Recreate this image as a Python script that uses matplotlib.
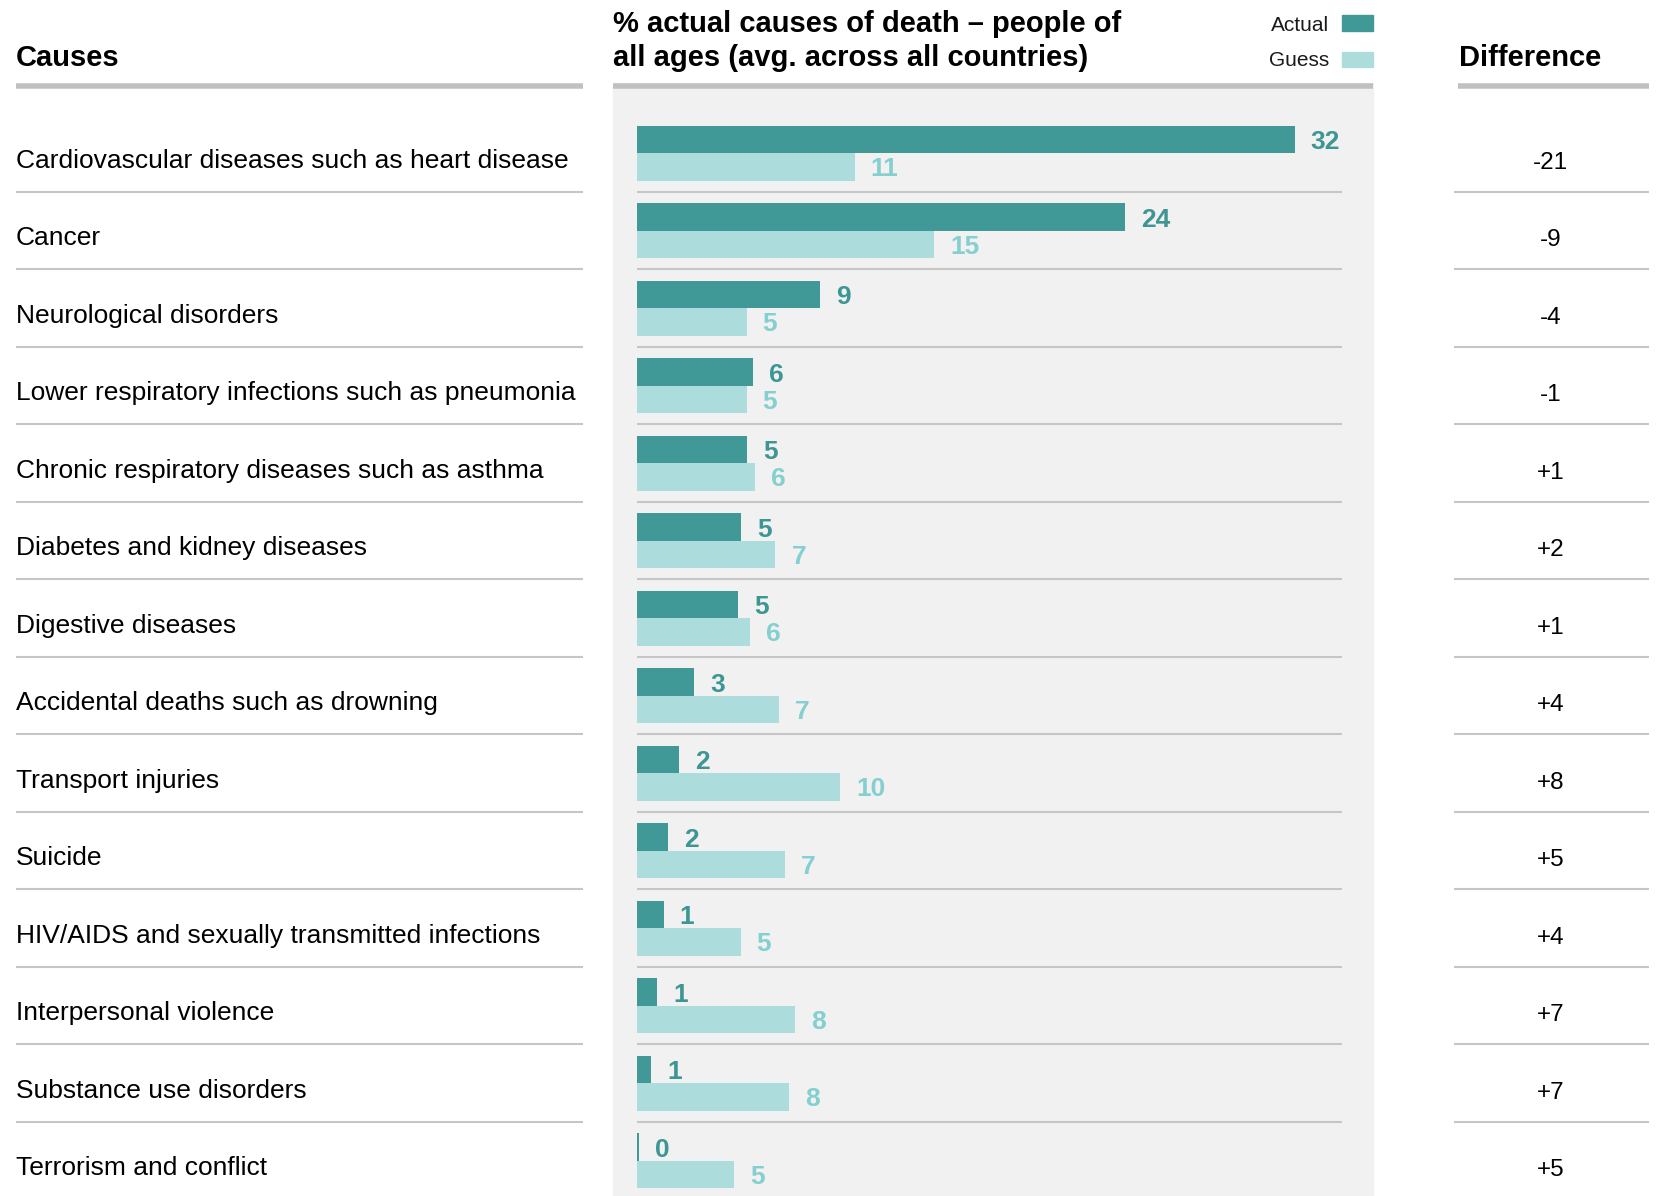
import matplotlib
matplotlib.use("Agg")
import matplotlib.pyplot as plt
from matplotlib.patches import Rectangle
from matplotlib.lines import Line2D
import numpy as np

plt.rcParams['font.family'] = ['Liberation Sans', 'DejaVu Sans']

causes = [
    "Cardiovascular diseases such as heart disease",
    "Cancer",
    "Neurological disorders",
    "Lower respiratory infections such as pneumonia",
    "Chronic respiratory diseases such as asthma",
    "Diabetes and kidney diseases",
    "Digestive diseases",
    "Accidental deaths such as drowning",
    "Transport injuries",
    "Suicide",
    "HIV/AIDS and sexually transmitted infections",
    "Interpersonal violence",
    "Substance use disorders",
    "Terrorism and conflict",
]
# bar lengths
actual = [32.0, 23.75, 8.92, 5.64, 5.36, 5.09, 4.95, 2.81, 2.08, 1.54, 1.31, 0.99, 0.70, 0.13]
guess = [10.60, 14.46, 5.35, 5.35, 5.74, 6.75, 5.53, 6.92, 9.91, 7.21, 5.06, 7.72, 7.43, 4.75]
# printed labels
actual_labels = ["32", "24", "9", "6", "5", "5", "5", "3", "2", "2", "1", "1", "1", "0"]
guess_labels = ["11", "15", "5", "5", "6", "7", "6", "7", "10", "7", "5", "8", "8", "5"]
diff_labels = ["-21", "-9", "-4", "-1", "+1", "+2", "+1", "+4", "+8", "+5", "+4", "+7", "+7", "+5"]

C_ACT = "#419997"
C_GUESS = "#addcdc"
C_ACT_TXT = "#3d9694"
C_GUESS_TXT = "#84cfcf"
PANEL = "#f1f1f1"
HEAD_LINE = "#c0c0c0"
SEP = "#c6c6c6"

W, H = 1663, 1196
fig = plt.figure(figsize=(W / 100, H / 100), dpi=100)


def fx(x):
    return x / W


def fy(y):
    return 1 - y / H


ROW_TOP = 114.2
ROW_H = 77.5
n = len(causes)
rows = np.arange(n)


def col_axes(x0, x1):
    y1 = ROW_TOP + n * ROW_H
    ax = fig.add_axes([fx(x0), fy(y1), (x1 - x0) / W, (y1 - ROW_TOP) / H])
    ax.set_ylim(n, 0)
    ax.axis('off')
    return ax


# gray panel behind the bars
fig.add_artist(Rectangle((fx(613), fy(1196)), (1372.5 - 613) / W, (1196 - 83) / H,
                         transform=fig.transFigure, color=PANEL, zorder=-1))

# header lines
for x0, x1 in [(15.8, 582.6), (613, 1372.5), (1458.3, 1649.3)]:
    fig.add_artist(Line2D([fx(x0), fx(x1)], [fy(85.5), fy(85.5)], lw=5.5 * 0.72,
                          color=HEAD_LINE, solid_capstyle='butt', transform=fig.transFigure))

# headers
fig.text(fx(15.8), fy(66), "Causes", fontsize=21, fontweight='bold', va='baseline')
fig.text(fx(613), fy(31.5), "% actual causes of death \u2013 people of", fontsize=21,
         fontweight='bold', va='baseline')
fig.text(fx(613), fy(66), "all ages (avg. across all countries)", fontsize=21,
         fontweight='bold', va='baseline')
fig.text(fx(1459), fy(66), "Difference", fontsize=21, fontweight='bold', va='baseline')

# legend
fig.text(fx(1329), fy(30.7), "Actual", fontsize=15, ha='right', va='baseline', color="#1a1a1a")
fig.text(fx(1329), fy(66.5), "Guess", fontsize=15, ha='right', va='baseline', color="#1a1a1a")
fig.add_artist(Rectangle((fx(1342), fy(30.7)), 30.7 / W, 15.7 / H,
                         transform=fig.transFigure, color=C_ACT))
fig.add_artist(Rectangle((fx(1342), fy(66.7)), 30.7 / W, 14.7 / H,
                         transform=fig.transFigure, color=C_GUESS))

# left column: causes
ax_l = col_axes(15.8, 582.6)
ax_l.set_xlim(0, 1)
for i in range(1, n):
    ax_l.axhline(i, color=SEP, lw=1.5)
for i, c in enumerate(causes):
    ax_l.text(0, i + 0.69, c, fontsize=19, va='baseline', ha='left')

# middle column: bars
ax_m = col_axes(636.7, 1341.7)
ax_m.set_xlim(0, 705 / 20.5625)
for i in range(1, n):
    ax_m.axhline(i, color=SEP, lw=1.5)
ax_m.barh(rows + 0.328, actual, height=0.352, color=C_ACT, lw=0)
ax_m.barh(rows + 0.680, guess, height=0.352, color=C_GUESS, lw=0)
for i in range(n):
    ax_m.annotate(actual_labels[i], xy=(actual[i], i + 0.328), xytext=(11.5, -6.8),
                  textcoords='offset points', fontsize=19, fontweight='bold',
                  color=C_ACT_TXT, va='baseline', annotation_clip=False)
    ax_m.annotate(guess_labels[i], xy=(guess[i], i + 0.680), xytext=(11.5, -6.8),
                  textcoords='offset points', fontsize=19, fontweight='bold',
                  color=C_GUESS_TXT, va='baseline', annotation_clip=False)

# right column: difference
ax_r = col_axes(1454, 1649)
ax_r.set_xlim(0, 1)
for i in range(1, n):
    ax_r.axhline(i, color=SEP, lw=1.5)
for i, d in enumerate(diff_labels):
    ax_r.text(0.497, i + 0.707, d, fontsize=17.5, va='baseline', ha='center')

fig.savefig("out.png", dpi=100)
